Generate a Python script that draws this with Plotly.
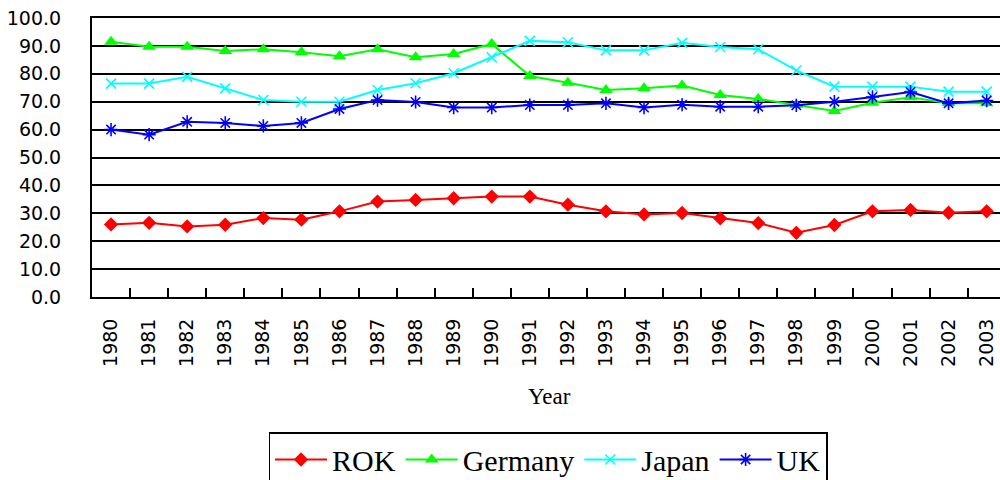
import plotly.graph_objects as go

years = [str(y) for y in range(1980, 2004)]
rok = [26.0, 26.6, 25.3, 25.9, 28.3, 27.7, 30.7, 34.2, 34.8, 35.4, 36.0, 36.0,
       33.1, 30.7, 29.6, 30.1, 28.2, 26.5, 23.0, 25.8, 30.7, 31.2, 30.2, 30.7]
germany = [91.5, 89.7, 89.7, 88.2, 88.8, 87.7, 86.3, 88.8, 85.9, 87.1, 90.7, 79.2,
           76.8, 74.2, 74.8, 75.8, 72.4, 71.0, 68.8, 66.7, 69.6, 71.6, 69.4, 69.4]
japan = [76.5, 76.5, 78.9, 74.8, 70.6, 70.0, 70.0, 74.2, 76.6, 80.2, 85.9, 91.8,
         91.3, 88.4, 88.4, 91.1, 89.6, 88.8, 81.2, 75.4, 75.4, 75.4, 73.6, 73.6]
uk = [60.0, 58.2, 62.8, 62.4, 61.3, 62.4, 67.4, 70.6, 69.9, 67.9, 67.9, 68.8,
      68.8, 69.4, 67.9, 68.9, 68.2, 68.2, 68.7, 70.0, 71.7, 73.5, 69.4, 70.4]
y_ticks = [0, 10, 20, 30, 40, 50, 60, 70, 80, 90, 100]

series = [
    ("ROK", rok, "#ff0000", "diamond", 11, 0),
    ("Germany", germany, "#00ff00", "triangle-up", 12, 0),
    ("Japan", japan, "#00ffff", "x-thin-open", 10, 1.6),
    ("UK", uk, "#0000ff", "asterisk-open", 11, 1.6),
]

fig = go.Figure()
for name, vals, col, sym, sz, lw in series:
    fig.add_trace(go.Scatter(
        x=years, y=vals, name=name, mode="lines+markers",
        line=dict(color=col, width=2),
        marker=dict(symbol=sym, size=sz, color=col,
                    line=dict(color=col, width=lw)),
    ))

W, H = 1000, 480
L, R, T, B = 92, 0, 18, 183
pw = W - L - R
ph = H - T - B

fig.update_layout(
    width=W, height=H,
    margin=dict(l=L, r=R, t=T, b=B, autoexpand=False),
    paper_bgcolor="white", plot_bgcolor="white",
    showlegend=True,
    legend=dict(
        orientation="h",
        x=(548 - L) / pw, xanchor="center",
        y=(ph - (432 - T)) / ph, yanchor="top",
        font=dict(family="Liberation Serif", size=30, color="black"),
        bordercolor="black", borderwidth=1.5,
        bgcolor="white",
        itemwidth=52,
    ),
    xaxis=dict(
        type="category",
        range=[-0.5, 23.35],
        automargin=False,
        showgrid=False,
        showline=True, linecolor="black", linewidth=2, mirror=True,
        ticks="inside", tickson="boundaries", ticklen=9, tickwidth=2,
        tickcolor="black",
        tickangle=-90,
        tickfont=dict(family="DejaVu Sans", size=19, color="black"),
        ticklabelstandoff=12,
    ),
    yaxis=dict(
        range=[0, 100],
        automargin=False,
        tickvals=y_ticks,
        tickformat=".1f",
        showgrid=True, gridcolor="black", gridwidth=2,
        showline=True, linecolor="black", linewidth=2,
        zeroline=False,
        ticks="",
        tickfont=dict(family="DejaVu Sans", size=19, color="black"),
        ticklabelstandoff=25,
    ),
    annotations=[dict(
        text="Year", xref="paper", yref="paper",
        x=(549 - L) / pw, y=(ph - (396 - T)) / ph,
        xanchor="center", yanchor="middle", showarrow=False,
        font=dict(family="Liberation Serif", size=23, color="black"),
    )],
)

fig.write_html(
    "out.html",
    config={"displayModeBar": False},
    post_script="document.body.style.margin='0px';document.body.style.overflow='hidden';",
)
